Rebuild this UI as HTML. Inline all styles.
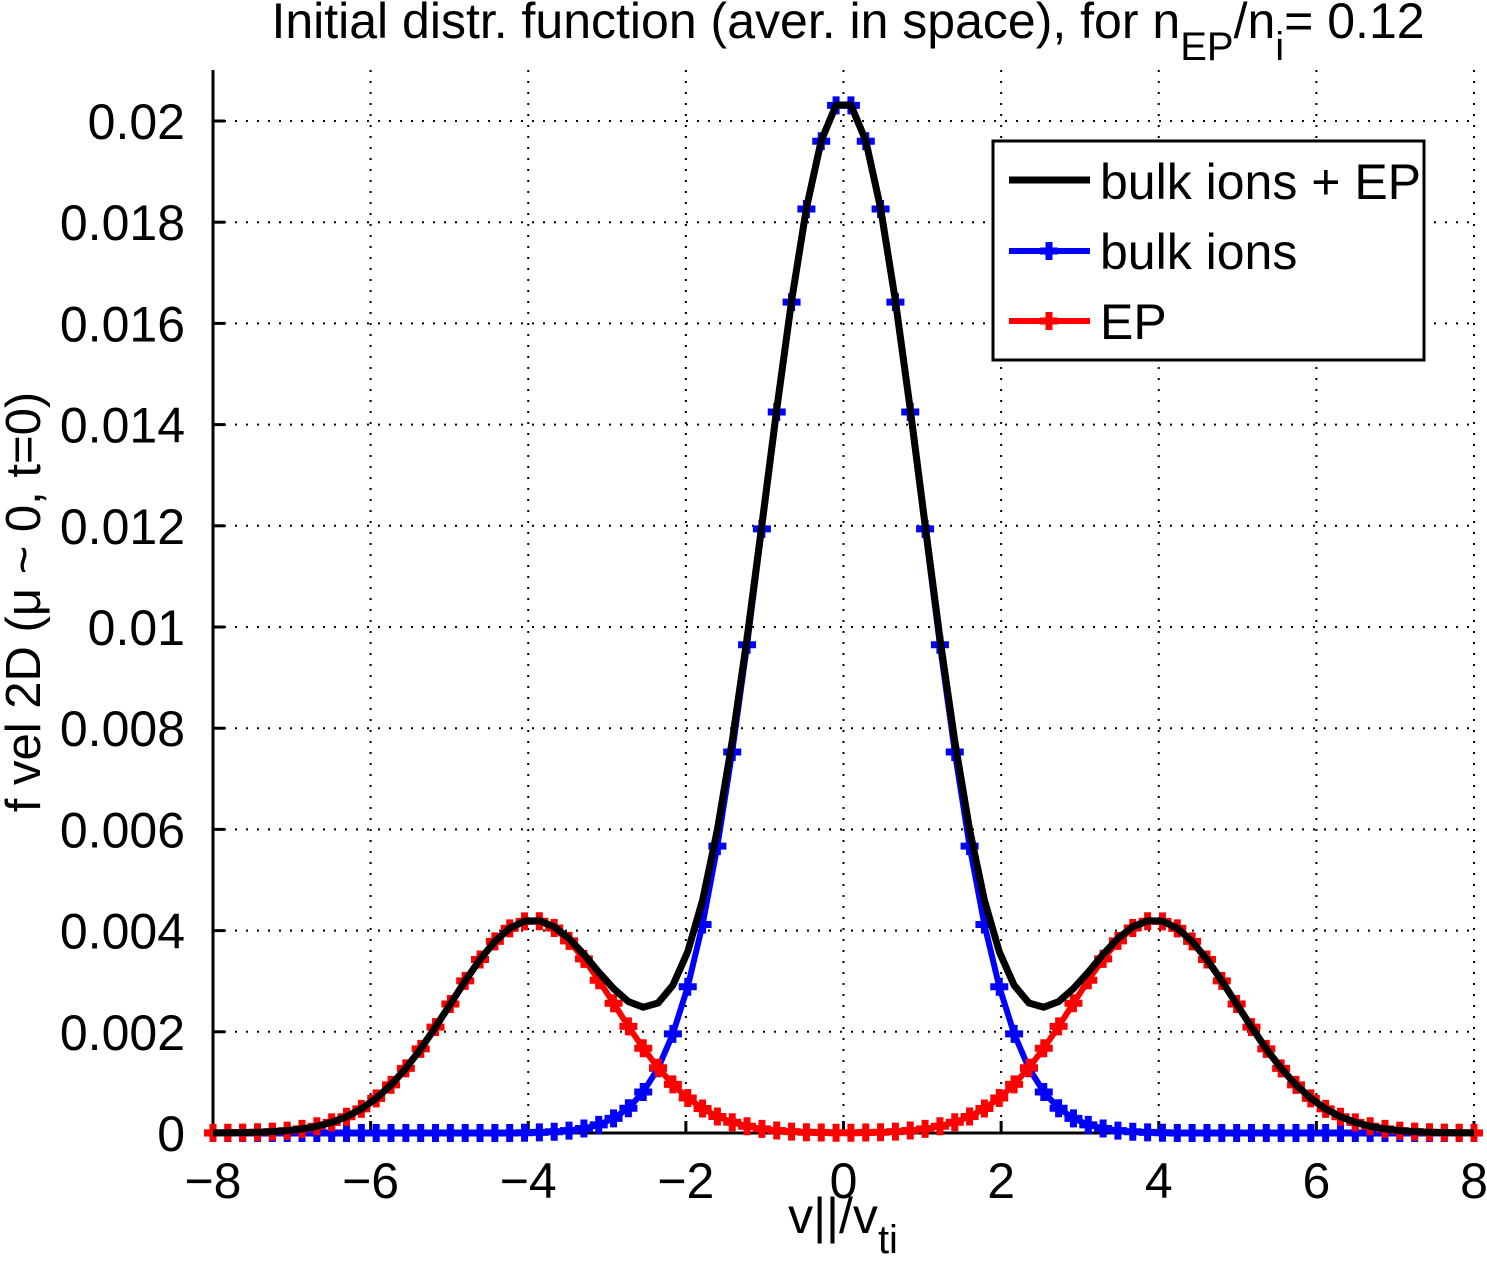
<!DOCTYPE html>
<html><head><meta charset="utf-8"><style>
html,body{margin:0;padding:0;background:#fff;}
svg{display:block;font-family:"Liberation Sans",Arial,sans-serif;}
</style></head><body>
<svg id="chart" width="1487" height="1263" viewBox="0 0 1487 1263">
<g id="grid"></g>
<g id="axes"></g>
<g id="series"></g>
<text x="848" y="38" font-size="50" text-anchor="middle">Initial distr. function (aver. in space), for n<tspan dy="22" font-size="40">EP</tspan><tspan dy="-22">/n</tspan><tspan dy="22" font-size="40">i</tspan><tspan dy="-22">= 0.12</tspan></text>
<text x="843" y="1233" font-size="50" text-anchor="middle">v||/v<tspan dy="20" font-size="40">ti</tspan></text>
<text transform="translate(40,602) rotate(-90)" font-size="49" text-anchor="middle">f vel 2D (μ ~ 0, t=0)</text>
<g>
<rect x="993" y="141" width="431" height="219" fill="#fff" stroke="#000" stroke-width="3"/>
<g><line x1="1009" y1="180" x2="1090" y2="180" stroke="#000" stroke-width="7"/><text x="1100" y="199" font-size="50">bulk ions + EP</text></g>
<g><line x1="1009" y1="251" x2="1090" y2="251" stroke="#00f" stroke-width="6"/><path d="M1040 251h18M1049 242v18" stroke="#00f" stroke-width="7"/><text x="1100" y="269" font-size="50">bulk ions</text></g>
<g><line x1="1009" y1="321" x2="1090" y2="321" stroke="#f00" stroke-width="6"/><path d="M1040 321h18M1049 312v18" stroke="#f00" stroke-width="7"/><text x="1100" y="339" font-size="50">EP</text></g>
</g>
</svg>
<script>
const xValues = [-8,-7.8118,-7.6235,-7.4353,-7.2471,-7.0588,-6.8706,-6.6824,-6.4941,-6.3059,-6.1176,-5.9294,-5.7412,-5.5529,-5.3647,-5.1765,-4.9882,-4.8,-4.6118,-4.4235,-4.2353,-4.0471,-3.8588,-3.6706,-3.4824,-3.2941,-3.1059,-2.9176,-2.7294,-2.5412,-2.3529,-2.1647,-1.9765,-1.7882,-1.6,-1.4118,-1.2235,-1.0353,-0.8471,-0.6588,-0.4706,-0.2824,-0.0941,0.0941,0.2824,0.4706,0.6588,0.8471,1.0353,1.2235,1.4118,1.6,1.7882,1.9765,2.1647,2.3529,2.5412,2.7294,2.9176,3.1059,3.2941,3.4824,3.6706,3.8588,4.0471,4.2353,4.4235,4.6118,4.8,4.9882,5.1765,5.3647,5.5529,5.7412,5.9294,6.1176,6.3059,6.4941,6.6824,6.8706,7.0588,7.2471,7.4353,7.6235,7.8118,8];
const bulkIons = [0,0,0,0,0,0,0,0,0,0,0,0,0,0,0,0,0,0,0,0,0,0.000006,0.000012,0.000024,0.000048,0.00009,0.00016,0.00029,0.00049,0.00081,0.00128,0.00196,0.00289,0.00412,0.00567,0.00753,0.00965,0.01194,0.01425,0.01642,0.01826,0.0196,0.02031,0.02031,0.0196,0.01826,0.01642,0.01425,0.01194,0.00965,0.00753,0.00567,0.00412,0.00289,0.00196,0.00128,0.00081,0.00049,0.00029,0.00016,0.00009,0.000048,0.000024,0.000012,0.000006,0,0,0,0,0,0,0,0,0,0,0,0,0,0,0,0,0,0,0,0,0];
const epValues = [0.000002,0.000004,0.000008,0.000015,0.000027,0.000048,0.000081,0.000133,0.00021,0.000322,0.000477,0.000685,0.000951,0.001278,0.001663,0.002093,0.00255,0.003006,0.003429,0.003786,0.004045,0.004182,0.004184,0.004051,0.003796,0.003441,0.00302,0.002564,0.002107,0.001676,0.001289,0.00096,0.000692,0.000483,0.000326,0.000213,0.000134,0.000082,0.000049,0.000028,0.000016,0.000009,0.000006,0.000006,0.000009,0.000016,0.000028,0.000049,0.000082,0.000134,0.000213,0.000326,0.000483,0.000692,0.00096,0.001289,0.001676,0.002107,0.002564,0.00302,0.003441,0.003796,0.004051,0.004184,0.004182,0.004045,0.003786,0.003429,0.003006,0.00255,0.002093,0.001663,0.001278,0.000951,0.000685,0.000477,0.000322,0.00021,0.000133,0.000081,0.000048,0.000027,0.000015,0.000008,0.000004,0.000002];
const totalValues = [0.000002,0.000004,0.000008,0.000015,0.000027,0.000048,0.000081,0.000133,0.00021,0.000322,0.000477,0.000685,0.000951,0.001278,0.001663,0.002093,0.00255,0.003006,0.003429,0.003786,0.004045,0.004188,0.004196,0.004075,0.003844,0.003531,0.00318,0.002854,0.002597,0.002486,0.002569,0.00292,0.003582,0.004603,0.005996,0.007743,0.009784,0.012022,0.014299,0.016448,0.018276,0.019609,0.020316,0.020316,0.019609,0.018276,0.016448,0.014299,0.012022,0.009784,0.007743,0.005996,0.004603,0.003582,0.00292,0.002569,0.002486,0.002597,0.002854,0.00318,0.003531,0.003844,0.004075,0.004196,0.004188,0.004045,0.003786,0.003429,0.003006,0.00255,0.002093,0.001663,0.001278,0.000951,0.000685,0.000477,0.000322,0.00021,0.000133,0.000081,0.000048,0.000027,0.000015,0.000008,0.000004,0.000002];
const xTicks = [-8,-6,-4,-2,0,2,4,6,8];
const xTickLabels = ["\u22128","\u22126","\u22124","\u22122","0","2","4","6","8"];
const yTicks = [0,0.002,0.004,0.006,0.008,0.01,0.012,0.014,0.016,0.018,0.02];
const yTickLabels = ["0","0.002","0.004","0.006","0.008","0.01","0.012","0.014","0.016","0.018","0.02"];

const NS = "http://www.w3.org/2000/svg";
const X0 = 213, X1 = 1474, Y0 = 1133, Y1 = 121, TOP = 70;
const xs = v => X0 + (v + 8) / 16 * (X1 - X0);
const ys = v => Y0 - v / 0.02 * (Y0 - Y1);
function mk(tag, attrs, parent) { const e = document.createElementNS(NS, tag); for (const k in attrs) e.setAttribute(k, attrs[k]); parent.appendChild(e); return e; }
const grid = document.getElementById('grid'), axes = document.getElementById('axes'), series = document.getElementById('series');

xTicks.forEach((t, i) => {
  const x = xs(t);
  if (i > 0) {
    const g = mk('line', {x1: x, y1: TOP, x2: x, y2: Y0, stroke: '#000', 'stroke-width': 2, 'stroke-dasharray': '2 9'}, grid);
    
    
  }
  const tk = mk('line', {x1: x, y1: Y0, x2: x, y2: Y0 - 12, stroke: '#000', 'stroke-width': 3}, axes);
  
  
  const lb = mk('text', {x: x, y: 1198, 'font-size': 50, 'text-anchor': 'middle'}, axes);
  lb.textContent = xTickLabels[i];
  
  
});
yTicks.forEach((t, i) => {
  const y = ys(t);
  if (i > 0) {
    const g = mk('line', {x1: X0, y1: y, x2: X1, y2: y, stroke: '#000', 'stroke-width': 2, 'stroke-dasharray': '2 9'}, grid);
    
    
  }
  const tk = mk('line', {x1: X0, y1: y, x2: X0 + 12, y2: y, stroke: '#000', 'stroke-width': 3}, axes);
  
  
  const lb = mk('text', {x: 185, y: y + 18, 'font-size': 50, 'text-anchor': 'end'}, axes);
  lb.textContent = yTickLabels[i];
  
  
});
const ax = mk('path', {d: `M${X0} ${TOP}V${Y0}H${X1}`, fill: 'none', stroke: '#000', 'stroke-width': 3}, axes);



function drawSeries(vals, color, name, markers, width) {
  const pts = xValues.map((x, i) => xs(x).toFixed(1) + ',' + ys(vals[i]).toFixed(1)).join(' ');
  const pl = mk('polyline', {points: pts, fill: 'none', stroke: color, 'stroke-width': width, 'stroke-linejoin': 'round'}, series);
  
  
  if (markers) {
    let d = '';
    xValues.forEach((x, i) => { const px = xs(x), py = ys(vals[i]); d += `M${px - 9} ${py}h18M${px} ${py - 9}v18`; });
    const m = mk('path', {d: d, stroke: color, 'stroke-width': 7, fill: 'none'}, series);
    
    
  }
}
drawSeries(bulkIons, '#0000ff', 'bulk-ions', true, 6);
drawSeries(epValues, '#ff0000', 'ep', true, 6);
drawSeries(totalValues, '#000000', 'total', false, 7);
</script>
</body></html>
